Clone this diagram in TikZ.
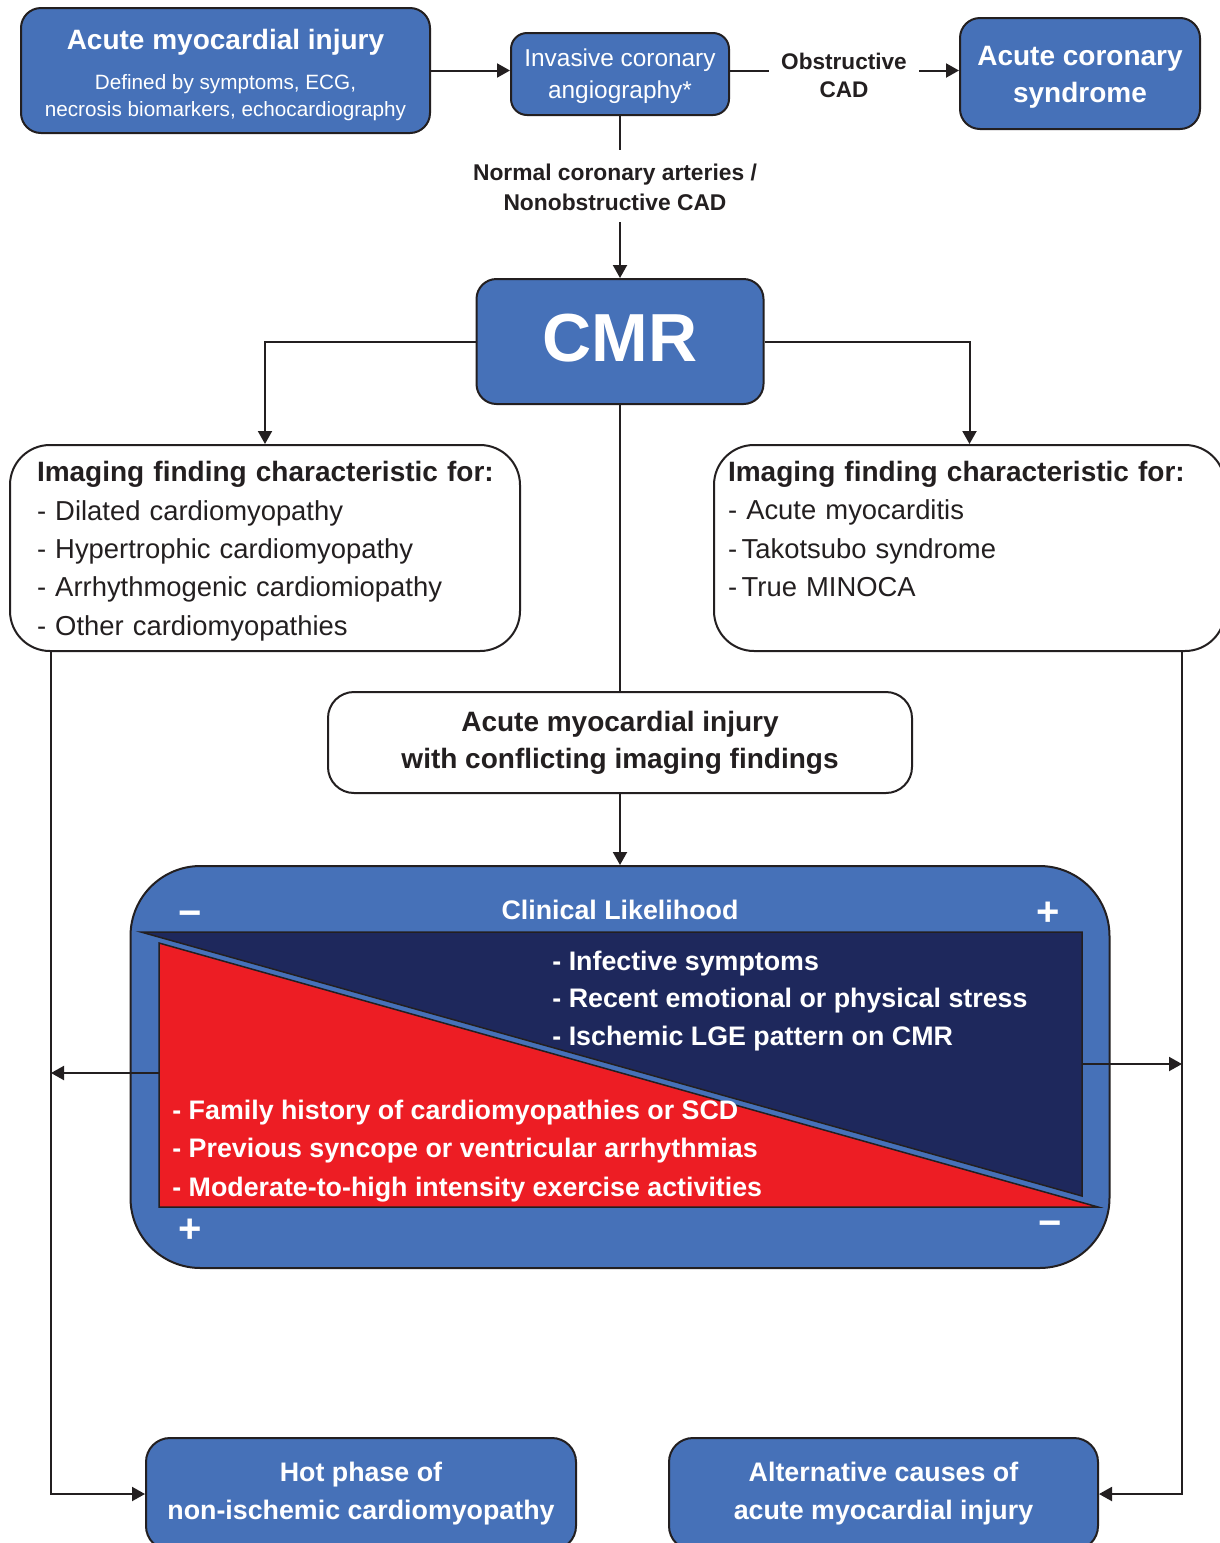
\documentclass[tikz,border=0pt]{standalone}
\usepackage{fontspec}
\setmainfont{Liberation Sans}
\usetikzlibrary{arrows.meta,calc}
\definecolor{boxblue}{RGB}{70,113,184}
\definecolor{navyfill}{RGB}{30,40,92}
\definecolor{redfill}{RGB}{237,29,36}
\definecolor{ink}{RGB}{35,31,32}
\newcommand{\fs}[2]{\fontsize{#1}{#2}\selectfont}
\begin{document}
\begin{tikzpicture}[x=0.5pt,y=-0.5pt,
  conn/.style={draw=ink, line width=1pt},
  arr/.style={conn, -{Triangle[length=6.5pt,width=7pt]}},
  bluebox/.style={draw=ink, line width=1pt, fill=boxblue, text=white, rounded corners=10pt, align=center, inner sep=0pt},
  whitebox/.style={draw=ink, line width=1pt, fill=white, text=ink, rounded corners=20pt},
  lbl/.style={text=ink, align=center, inner sep=0pt},
  wtxt/.style={text=white, inner sep=0pt},
  wedge/.style={draw=ink, line width=0.75pt}
]
\useasboundingbox (0,0) rectangle (1220,1543);
\clip (0,0) rectangle (1220,1543);
\fill[white] (0,0) rectangle (1220,1543);

% top row
\node[bluebox, minimum width=204.5pt, minimum height=62.5pt, font=\fs{10.35}{13.5}] (ami) at (225.5,70.5)
  {\rule{0pt}{14.7pt}\fs{14}{17}\bfseries Acute myocardial injury\\[6.5pt]Defined by symptoms, ECG,\\necrosis biomarkers, echocardiography};
\node[bluebox, rounded corners=8pt, minimum width=109pt, minimum height=41pt, font=\fs{12.2}{16}] (ica) at (620,74)
  {\rule{0pt}{10.9pt}Invasive coronary\\angiography*};
\node[lbl, inner xsep=6pt, font=\fs{11.3}{14}\bfseries] (obs) at (844,75)
  {Obstructive\\CAD};
\node[bluebox, minimum width=120pt, minimum height=55.5pt, font=\fs{14}{18.5}\bfseries] (acs) at (1080,73.5)
  {\rule{0pt}{13.2pt}Acute coronary\\syndrome};
\node[lbl, font=\fs{11.4}{15}\bfseries] (norm) at (615,187)
  {Normal coronary arteries /\\Nonobstructive CAD};
\coordinate (na) at (620,150);
\coordinate (nb) at (620,222);

% CMR
\node[bluebox, minimum width=143.5pt, minimum height=62.5pt, text depth=4pt, font=\fs{34}{34}\bfseries] (cmr) at (620,341.5)
  {CMR};

% finding boxes
\node[whitebox, text width=228pt, inner xsep=13.5pt, inner ysep=0pt, minimum height=103pt, align=left, font=\fs{13.7}{19.2}] (lb) at (265,548)
  {\rule{0pt}{13.4pt}\mbox{\fs{14}{19.2}\bfseries Imaging finding characteristic for:}\\- Dilated cardiomyopathy\\- Hypertrophic cardiomyopathy\\- Arrhythmogenic cardiomiopathy\\- Other cardiomyopathies};
\node[whitebox, text width=241.5pt, inner xsep=7pt, inner ysep=0pt, minimum height=103pt, align=left, font=\fs{13.7}{19.2}] (rb) at (969.5,548)
  {\mbox{\fs{14}{19.2}\bfseries Imaging finding characteristic for:}\\- Acute myocarditis\\-\,Takotsubo syndrome\\-\,True MINOCA\\\mbox{}};

\node[whitebox, rounded corners=13pt, minimum width=292pt, minimum height=50.5pt, align=center, inner sep=0pt, font=\fs{14}{18.5}\bfseries] (conf) at (620,742.5)
  {Acute myocardial injury\\with conflicting imaging findings};

% clinical likelihood box
\node[bluebox, rounded corners=35pt, minimum width=489.5pt, minimum height=201pt] (big) at (620,1067) {};
\draw[wedge, fill=navyfill] (141,932) -- (1082,932) -- (1082,1196) -- cycle;
\draw[wedge, fill=redfill] (159,943) -- (159,1207) -- (1098,1207) -- cycle;
\node[wtxt, font=\fs{13.4}{16}\bfseries] (clin) at (620,910) {Clinical Likelihood};
\node[wtxt, font=\fs{20}{20}\bfseries] (m1) at (190,919) {−};
\node[wtxt, font=\fs{20}{20}\bfseries] (p1) at (1048,914) {+};
\node[wtxt, font=\fs{20}{20}\bfseries] (p2) at (190,1231) {+};
\node[wtxt, font=\fs{20}{20}\bfseries] (m2) at (1050,1229) {−};
\node[wtxt, anchor=west, align=left, font=\fs{13.4}{18.75}\bfseries] (nt) at (552,1001)
  {- Infective symptoms\\- Recent emotional or physical stress\\- Ischemic LGE pattern on CMR};
\node[wtxt, anchor=west, align=left, font=\fs{13.4}{19.25}\bfseries] (rt) at (172,1151)
  {- Family history of cardiomyopathies or SCD\\- Previous syncope or ventricular arrhythmias\\- Moderate-to-high intensity exercise activities};
\coordinate (navyR) at (1082,1064);
\coordinate (redL) at (159,1073);

% bottom boxes
\node[bluebox, rounded corners=12pt, minimum width=215pt, minimum height=56pt, font=\fs{13.4}{19}\bfseries] (hot) at (361,1494)
  {Hot phase of\\non-ischemic cardiomyopathy};
\node[bluebox, rounded corners=12pt, minimum width=214.5pt, minimum height=56pt, font=\fs{13.4}{19}\bfseries] (alt) at (883.5,1494)
  {Alternative causes of\\acute myocardial injury};

% connectors
\draw[arr] (ami.east) -- (ami.east -| ica.west);
\draw[conn] (ami.east -| ica.east) -- (ami.east -| obs.west);
\draw[arr] (ami.east -| obs.east) -- (ami.east -| acs.west);
\draw[conn] (ica.south) -- (na);
\draw[arr] (nb) -- (cmr.north);
\draw[arr] (cmr.west) -| (lb.north);
\draw[arr] (cmr.east) -| (rb.north);
\draw[conn] (cmr.south) -- (conf.north);
\draw[arr] (conf.south) -- (big.north);
\coordinate (ldrop) at ($(lb.south west)+(42,0)$);
\coordinate (rdrop) at ($(rb.south west)+(469,0)$);
\draw[arr] (ldrop) |- (hot.west);
\draw[arr] (rdrop) |- (alt.east);
\draw[arr] (navyR) -- (navyR -| rdrop);
\draw[arr] (redL) -- (redL -| ldrop);
\end{tikzpicture}
\end{document}
